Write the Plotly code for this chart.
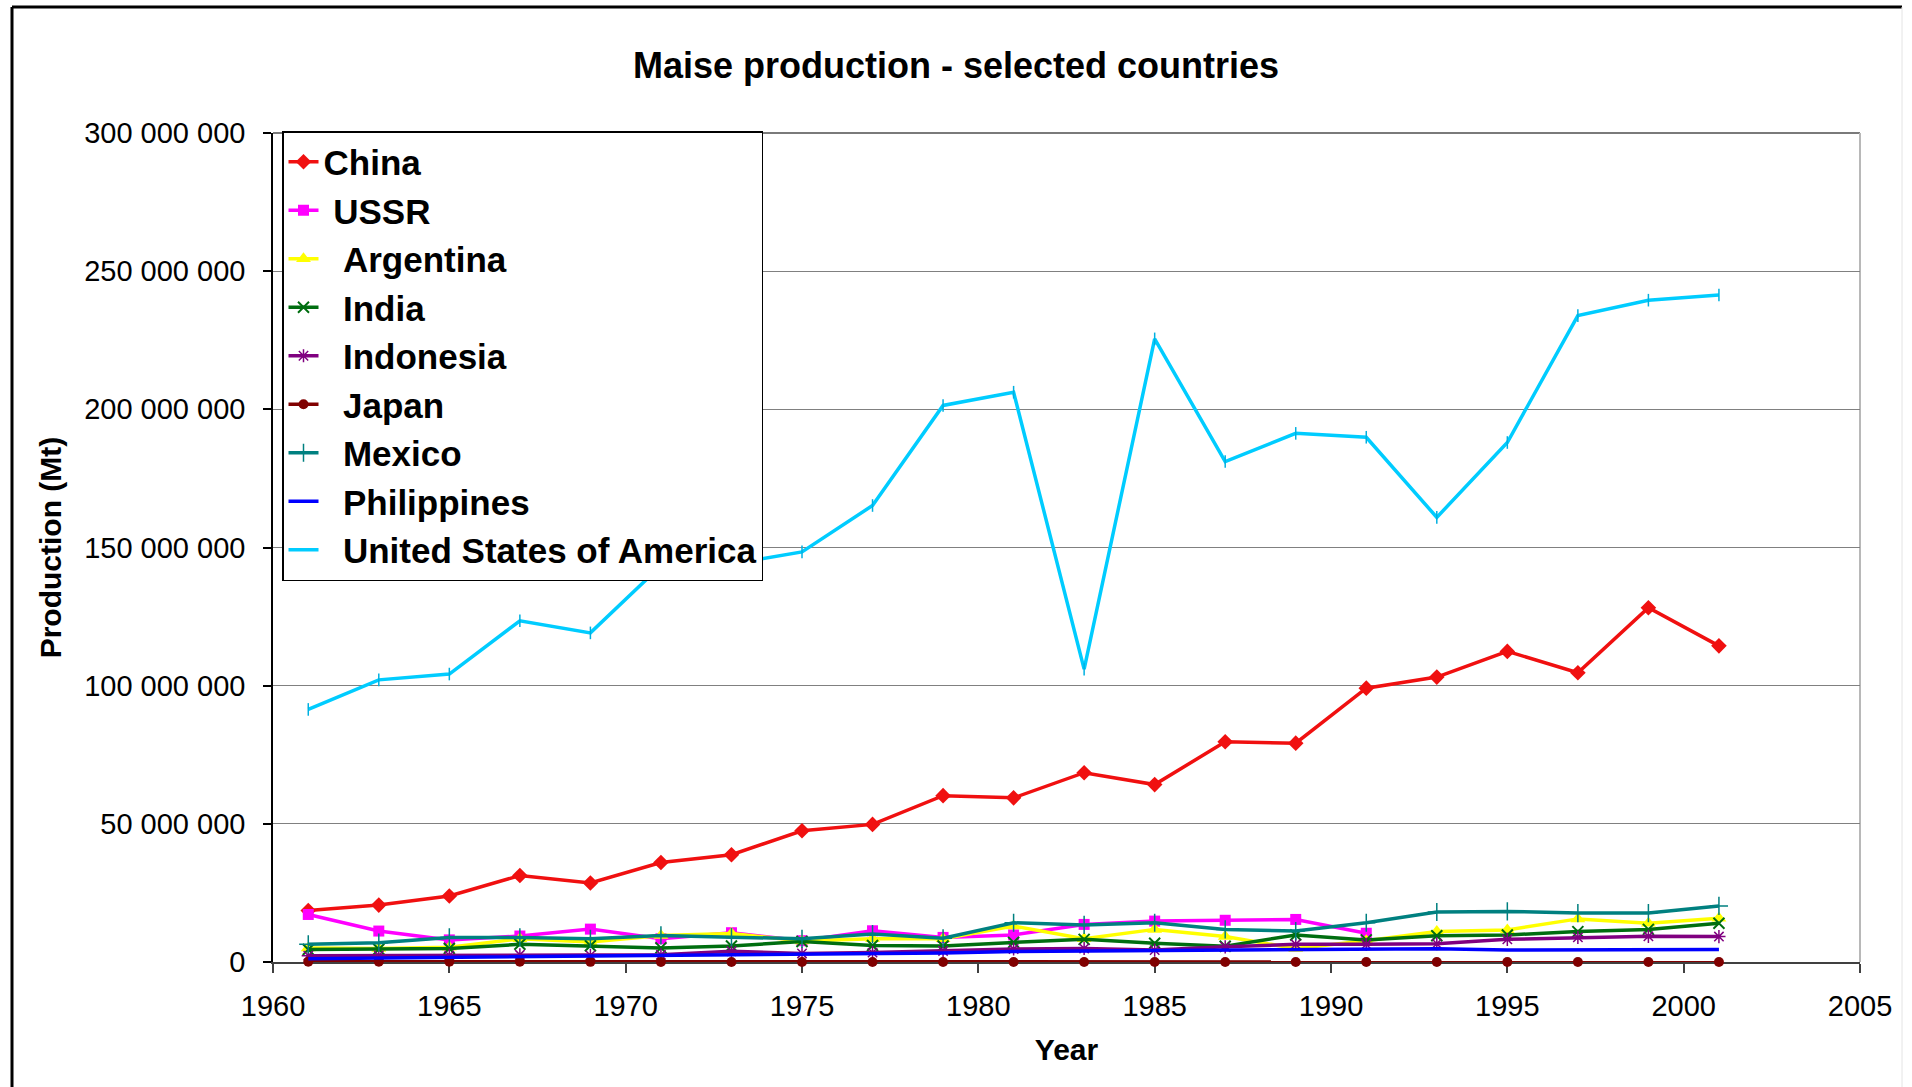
import plotly.graph_objects as go

# Harvest years (every second year)
years = [1961, 1963, 1965, 1967, 1969, 1971, 1973, 1975, 1977, 1979, 1981,
         1983, 1985, 1987, 1989, 1991, 1993, 1995, 1997, 1999, 2001]

# Maize production, million tonnes
china = [18.6, 20.6, 23.9, 31.3, 28.6, 36.0, 38.8, 47.5, 49.8, 60.2, 59.4,
         68.5, 64.2, 79.7, 79.2, 99.1, 103.1, 112.4, 104.7, 128.2, 114.4]
ussr = [17.2, 11.2, 8.0, 9.4, 11.9, 8.4, 10.6, 7.7, 11.3, 8.9, 9.8,
        13.6, 14.8, 15.1, 15.4, 10.4, None, None, None, None, None]
argentina = [5.1, 4.9, 5.3, 8.4, 7.2, 9.6, 10.3, 7.6, 8.4, 8.4, 13.0,
             8.4, 11.8, 9.2, 4.9, 7.7, 11.0, 11.6, 15.6, 14.0, 15.8]
india = [4.5, 4.6, 4.9, 6.4, 5.9, 5.1, 5.8, 7.4, 6.0, 5.8, 7.1,
         8.2, 6.8, 5.7, 9.8, 8.0, 9.5, 9.8, 11.0, 11.8, 14.0]
indonesia = [2.3, 2.4, 2.4, 2.6, 2.4, 2.6, 3.9, 3.1, 3.4, 4.0, 4.7,
             4.9, 4.3, 5.5, 6.4, 6.4, 6.6, 8.2, 8.9, 9.3, 9.2]
japan = [0.12, 0.10, 0.08, 0.06, 0.05, 0.04, 0.03, 0.02, 0.01, 0.005, 0.004,
         0.003, 0.002, 0.002, 0.001, 0.001, 0.001, 0.0004, 0.0002, 0.0002, 0.0002]
mexico = [6.4, 7.0, 8.9, 8.9, 8.4, 9.6, 9.0, 8.4, 10.1, 8.6, 14.2,
          13.4, 14.2, 11.8, 11.2, 14.2, 18.1, 18.3, 17.7, 17.7, 20.3]
philippines = [1.2, 1.4, 1.7, 1.9, 2.0, 2.2, 2.5, 2.9, 3.0, 3.3, 3.8,
               4.0, 4.2, 4.3, 4.5, 4.6, 4.8, 4.3, 4.3, 4.5, 4.5]
usa = [91.4, 102.1, 104.2, 123.5, 119.1, 143.4, 144.0, 148.4, 165.2, 201.4, 206.2,
       106.0, 225.5, 181.1, 191.3, 189.9, 160.9, 188.0, 233.9, 239.5, 241.4]

# Axis ticks
x_ticks = [1960, 1965, 1970, 1975, 1980, 1985, 1990, 1995, 2000, 2005]
y_ticks = [0, 50e6, 100e6, 150e6, 200e6, 250e6, 300e6]
y_tick_labels = ["0", "50 000 000", "100 000 000", "150 000 000",
                 "200 000 000", "250 000 000", "300 000 000"]

FONT = "Liberation Sans, Arial, sans-serif"
NBSP = "\u00a0"
LINE_W = 3.5


def tonnes(values):
    return [None if v is None else v * 1e6 for v in values]


series = [
    ("China", china, "#F01010", dict(symbol="diamond", size=12)),
    (NBSP + "USSR", ussr, "#FF00FF", dict(symbol="square", size=11)),
    (NBSP * 2 + "Argentina", argentina, "#FFFF00", dict(symbol="triangle-up", size=13)),
    (NBSP * 2 + "India", india, "#006E10",
     dict(symbol="x-thin-open", size=11, line=dict(width=2, color="#006E10"))),
    (NBSP * 2 + "Indonesia", indonesia, "#800080",
     dict(symbol="asterisk-open", size=11, line=dict(width=1.5, color="#800080"))),
    (NBSP * 2 + "Japan", japan, "#800000", dict(symbol="circle", size=10)),
    (NBSP * 2 + "Mexico", mexico, "#008080",
     dict(symbol="cross-thin-open", size=13, line=dict(width=1.5, color="#008080"))),
    (NBSP * 2 + "Philippines", philippines, "#0000FF", None),
    (NBSP * 2 + "United States of America", usa, "#00CCFF", None),
]

fig = go.Figure()
for name, vals, color, marker in series:
    if marker is None:
        fig.add_trace(go.Scatter(x=years, y=tonnes(vals), name=name, mode="lines",
                                 cliponaxis=False,
                                 line=dict(color=color, width=LINE_W)))
    else:
        fig.add_trace(go.Scatter(x=years, y=tonnes(vals), name=name, mode="lines+markers",
                                 cliponaxis=False,
                                 line=dict(color=color, width=LINE_W),
                                 marker=dict(color=color, **marker)))

# small tick marks on the US series
fig.add_trace(go.Scatter(x=years, y=tonnes(usa), mode="markers", showlegend=False,
                         hoverinfo="skip", cliponaxis=False,
                         marker=dict(symbol="line-ns-open", size=9, color="#00B0E0",
                                     line=dict(width=1.5, color="#00B0E0"))))

# geometry of the plotting area (pixels)
L, R, T, B = 273, 1860, 133, 962
W, H = 1912, 1087


def px(x):
    return (x - L) / (R - L)


def py(y):
    return (B - y) / (B - T)


shapes = [
    # plot-area frame (top and right edges)
    dict(type="line", xref="paper", yref="paper", x0=0, x1=1, y0=1, y1=1,
         line=dict(color="#7a7a7a", width=2), layer="below"),
    dict(type="line", xref="paper", yref="paper", x0=1, x1=1, y0=0, y1=1,
         line=dict(color="#b8b8b8", width=2), layer="below"),
    # outer chart border
    dict(type="line", xref="paper", yref="paper", x0=px(12), x1=px(1902), y0=py(7), y1=py(7),
         line=dict(color="black", width=3)),
    dict(type="line", xref="paper", yref="paper", x0=px(12), x1=px(12), y0=py(7), y1=py(1090),
         line=dict(color="black", width=3)),
    dict(type="line", xref="paper", yref="paper", x0=px(1902), x1=px(1902), y0=py(7), y1=py(1090),
         line=dict(color="#e4e4e4", width=1)),
]

fig.update_layout(
    width=W, height=H,
    margin=dict(l=L, r=W - R, t=T, b=H - B, autoexpand=False),
    paper_bgcolor="white", plot_bgcolor="white",
    font=dict(family=FONT, color="black"),
    title=dict(text="Maise production - selected countries", xref="container", x=0.5,
               xanchor="center", y=1 - 65 / H, yanchor="middle",
               font=dict(size=36, family=FONT, weight="bold")),
    xaxis=dict(range=[1960, 2005], tickvals=x_ticks, showgrid=False, zeroline=False,
               showline=True, linecolor="#404040", linewidth=1.5, layer="below traces",
               ticks="outside", ticklen=9, tickcolor="#404040", tickwidth=1.5,
               tickfont=dict(size=29, family=FONT), ticklabelstandoff=8,
               title=dict(text="Year", standoff=18,
                          font=dict(size=30, family=FONT, weight="bold"))),
    yaxis=dict(range=[0, 300e6], tickvals=y_ticks, ticktext=y_tick_labels,
               showgrid=True, gridcolor="#808080", gridwidth=1, zeroline=False,
               showline=True, linecolor="black", linewidth=1.5, layer="below traces",
               ticks="outside", ticklen=8, tickcolor="black", tickwidth=1.5,
               tickfont=dict(size=29, family=FONT), ticklabelstandoff=12,
               title=dict(text="Production (Mt)", standoff=14,
                          font=dict(size=30, family=FONT, weight="bold"))),
    legend=dict(x=px(282), y=py(131), xanchor="left", yanchor="top",
                bgcolor="white", bordercolor="black", borderwidth=1.5,
                font=dict(size=35, family=FONT, weight="bold"), tracegroupgap=0),
    shapes=shapes,
    showlegend=True,
)

fig.write_html("out.html")
